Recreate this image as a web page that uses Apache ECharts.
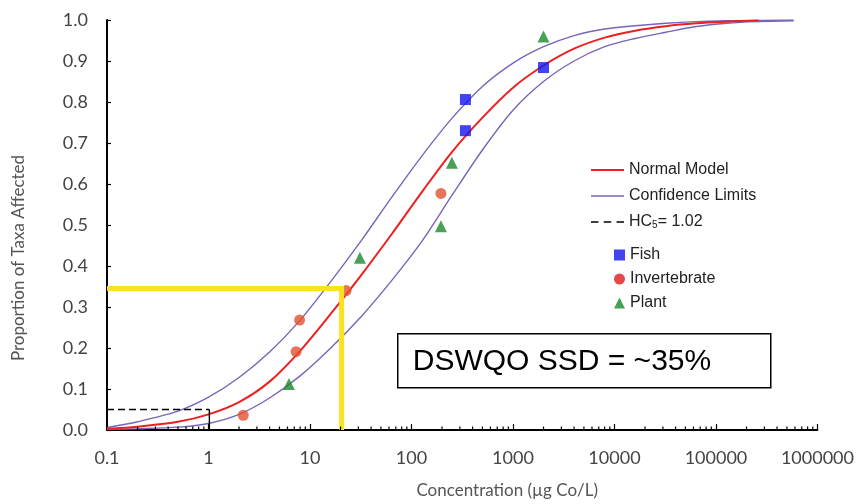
<!DOCTYPE html>
<html><head><meta charset="utf-8">
<script src="https://cdn.jsdelivr.net/npm/echarts@6/dist/echarts.min.js"></script>
<style>html,body{margin:0;padding:0;background:#fff}#c{width:857px;height:504px}</style>
</head><body><div id="c"></div>
<script>
// ---- data ----
const xMajorTicks = [0.1, 1, 10, 100, 1000, 10000, 100000, 1000000];
const yTicks = [0, 0.1, 0.2, 0.3, 0.4, 0.5, 0.6, 0.7, 0.8, 0.9, 1.0];
const minorMultipliers = [2, 3, 4, 5, 6, 7, 8, 9];
const minorDecades = [0.1, 1, 10, 100, 1000, 10000, 100000];

const normalModel = [
  [0.1, 0.003], [0.2, 0.008], [0.5, 0.020], [1, 0.038], [2, 0.068], [4, 0.118],
  [8, 0.193], [16, 0.283], [32, 0.378], [64, 0.478], [128, 0.582], [250, 0.678],
  [500, 0.762], [1000, 0.835], [2000, 0.889], [4000, 0.930], [8000, 0.957],
  [16000, 0.974], [32000, 0.985], [64000, 0.992], [128000, 0.996], [263600, 0.999]
];
const upperLimit = [
  [0.1, 0.006], [0.2, 0.020], [0.5, 0.046], [1, 0.080], [2, 0.128], [4, 0.190],
  [8, 0.268], [16, 0.362], [32, 0.462], [64, 0.568], [128, 0.670], [250, 0.760],
  [500, 0.838], [1000, 0.895], [2000, 0.935], [4000, 0.962], [8000, 0.978],
  [16000, 0.986], [32000, 0.992], [64000, 0.996], [128000, 0.998], [256000, 0.999], [582000, 1.0]
];
const lowerLimit = [
  [0.1, 0.001], [0.2, 0.003], [0.5, 0.007], [1, 0.016], [2, 0.038], [4, 0.078],
  [8, 0.132], [16, 0.200], [32, 0.277], [64, 0.365], [128, 0.462], [250, 0.572],
  [500, 0.683], [1000, 0.780], [2000, 0.850], [4000, 0.900], [8000, 0.935],
  [16000, 0.955], [32000, 0.970], [64000, 0.984], [128000, 0.992], [256000, 0.996], [582000, 0.998]
];
const hc5Horizontal = [[0.1, 0.05], [1.02, 0.05]];
const hc5Vertical = [[1.02, 0.05], [1.02, 0]];
const dswqoLine = [[0.1, 0.345], [20.5, 0.345], [20.5, 0]];

const fish = [[340, 0.806], [340, 0.730], [2000, 0.884]];
const invertebrate = [[2.2, 0.036], [7.3, 0.191], [7.9, 0.268], [22.7, 0.340], [195, 0.577]];
const plant = [[6.2, 0.112], [31, 0.420], [195, 0.497], [250, 0.652], [2000, 0.960]];

// ---- chart ----
const minorTicks = [];
minorDecades.forEach(d => minorMultipliers.forEach(m => minorTicks.push([Number((d * m).toPrecision(6)), 0])));

const labelFont = 'Lato';
const purple = '#7a64b8';
const red = '#ee1f1f';
const chart = echarts.init(document.getElementById('c'), null, {renderer: 'canvas'});
chart.setOption({
  animation: false,
  backgroundColor: '#fff',
  grid: {left: 107, right: 38, top: 20, bottom: 70, containLabel: false},
  xAxis: {
    type: 'log', logBase: 10, min: 0.1, max: 1000000, splitNumber: 7,
    name: 'Concentration (\u00b5g Co/L)', nameLocation: 'middle', nameGap: 52,
    nameTextStyle: {fontFamily: labelFont, fontSize: 17, color: '#555', padding: [0, 0, 0, 90]},
    axisLine: {lineStyle: {color: '#000', width: 2}},
    axisTick: {show: true, inside: true, length: 6, lineStyle: {color: '#000', width: 1.2}},
    minorTick: {show: false},
    splitLine: {show: false},
    axisLabel: {
      margin: 19, fontFamily: labelFont, fontSize: 18, color: '#444',
      formatter: v => String(Number(Number(v).toPrecision(6)))
    }
  },
  yAxis: {
    type: 'value', min: 0, max: 1, interval: 0.1,
    name: 'Proportion of Taxa Affected', nameLocation: 'middle', nameGap: 80,
    nameTextStyle: {fontFamily: labelFont, fontSize: 17, color: '#555', padding: [0, 66, 0, 0]},
    axisLine: {show: true, lineStyle: {color: '#000', width: 2}},
    axisTick: {show: true, inside: true, length: 4, lineStyle: {color: '#000', width: 1.2}},
    splitLine: {show: false},
    axisLabel: {margin: 19, fontFamily: labelFont, fontSize: 18, color: '#444', formatter: v => v.toFixed(1)}
  },
  legend: [
    {
      orient: 'vertical', left: 586, top: 157, itemWidth: 33, itemHeight: 14, itemGap: 10,
      symbolKeepAspect: true,
      data: [
        {name: 'Normal Model', icon: 'path://M0,0h33v2h-33z'},
        {name: 'Confidence Limits', icon: 'path://M0,0h33v1.4h-33z'},
        {name: 'HC5', icon: 'path://M0,0h7v1.6h-7zM12,0h7v1.6h-7zM24,0h7v1.6h-7z'}
      ],
      formatter: n => n === 'HC5' ? 'HC{sub|5}= 1.02' : n,
      textStyle: {fontFamily: 'Liberation Sans', fontSize: 16, color: '#222',
        rich: {sub: {fontFamily: 'Liberation Sans', fontSize: 10, color: '#222', verticalAlign: 'bottom', lineHeight: 12}}}
    },
    {
      orient: 'vertical', left: 609, top: 242, itemWidth: 11, itemHeight: 11, itemGap: 8,
      data: ['Fish', {name: 'Invertebrate', itemStyle: {color: '#dc1c1c'}}, 'Plant'],
      textStyle: {fontFamily: 'Liberation Sans', fontSize: 16, color: '#222'}
    }
  ],
  graphic: [{
    type: 'group', left: 397, top: 333,
    children: [
      {type: 'rect', shape: {x: 0, y: 0, width: 373, height: 54}, style: {fill: '#fff', stroke: '#000', lineWidth: 1.5}},
      {type: 'text', x: 15, y: 28, style: {text: 'DSWQO SSD = ~35%', fontFamily: 'Liberation Sans', fontSize: 30, fill: '#000', verticalAlign: 'middle'}}
    ]
  }],
  series: [
    {type: 'custom', name: 'minorTicks', coordinateSystem: 'cartesian2d', data: minorTicks, silent: true, z: 5,
      encode: {x: 0, y: 1},
      renderItem: (params, api) => {
        const p = api.coord([api.value(0), 0]);
        return {type: 'line', shape: {x1: p[0], y1: p[1], x2: p[0], y2: p[1] - 3.5}, style: {stroke: '#000', lineWidth: 1.2}};
      }},
    {type: 'line', name: 'Confidence Limits', data: upperLimit, smooth: 0.3, symbol: 'none',
      lineStyle: {color: purple, width: 1.4}, itemStyle: {color: purple}},
    {type: 'line', name: 'Confidence Limits', data: lowerLimit, smooth: 0.3, symbol: 'none',
      lineStyle: {color: purple, width: 1.4}, itemStyle: {color: purple}},
    {type: 'line', name: 'Normal Model', data: normalModel, smooth: 0.3, symbol: 'none',
      lineStyle: {color: red, width: 2}, itemStyle: {color: red}},
    {type: 'line', name: 'HC5', data: hc5Horizontal, symbol: 'none',
      lineStyle: {color: '#000', width: 1.5, type: [7, 4]}, itemStyle: {color: '#000'}},
    {type: 'line', name: 'hc5drop', data: hc5Vertical, symbol: 'none',
      lineStyle: {color: '#000', width: 1.4}},
    {type: 'scatter', name: 'Fish', data: fish, symbol: 'rect', symbolSize: 11, itemStyle: {color: '#1414f0'}, z: 3},
    {type: 'scatter', name: 'Invertebrate', data: invertebrate, symbol: 'circle', symbolSize: 11, itemStyle: {color: '#e1502f'}, z: 3},
    {type: 'scatter', name: 'Plant', data: plant, symbol: 'triangle', symbolSize: 12, itemStyle: {color: '#1c8a2e'}, z: 3},
    {type: 'line', name: 'dswqo', data: dswqoLine, symbol: 'none', z: 4,
      lineStyle: {color: '#fbe21c', width: 5, cap: 'butt', join: 'miter'}}
  ]
});
</script></body></html>
